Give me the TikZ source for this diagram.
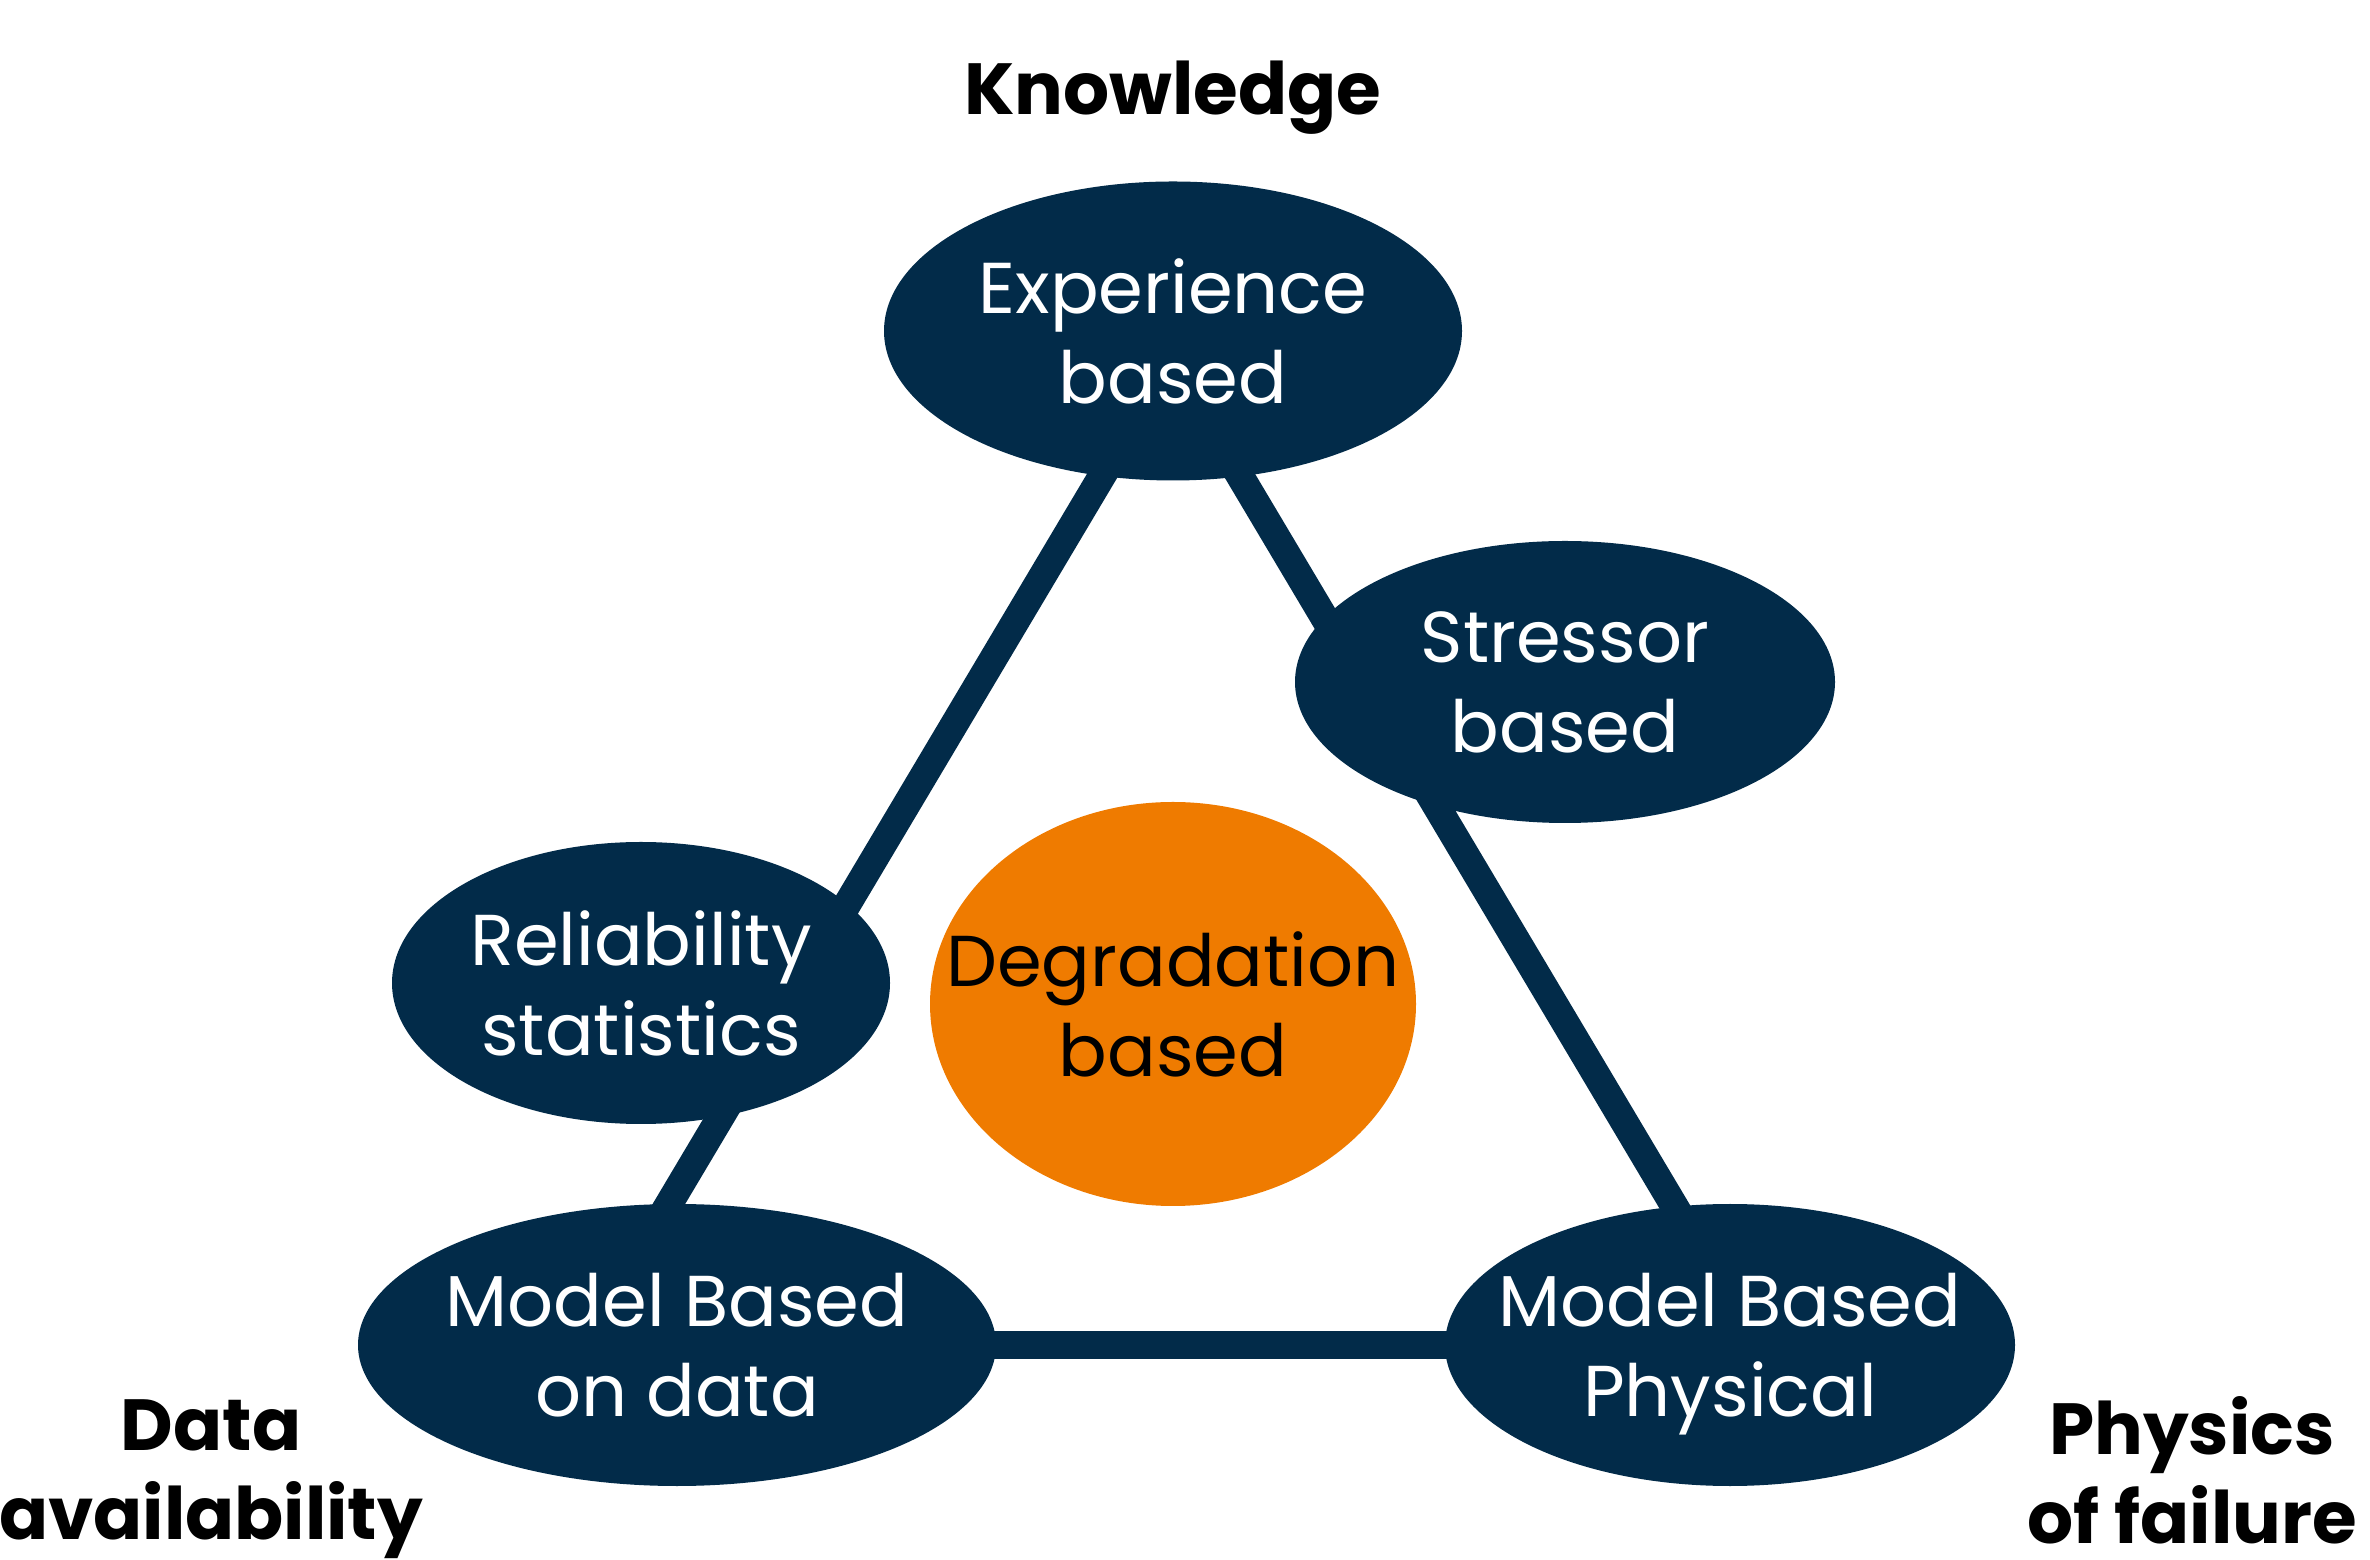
\documentclass[tikz,border=0pt]{standalone}
\usepackage{fontspec}
\setmainfont{Poppins}
\usetikzlibrary{shapes.geometric}
\definecolor{navy}{RGB}{2,43,73}
\definecolor{amber}{RGB}{239,123,0}

\begin{document}
\begin{tikzpicture}[
    blob/.style={ellipse, fill=navy, text=white, inner xsep=-1cm, inner ysep=0pt, align=center,
        font=\fontsize{20.5}{25.6}\selectfont, text depth=0pt},
    axislabel/.style={font=\fontsize{20.6}{25.4}\selectfont\bfseries, align=center},
    edge/.style={navy, line width=0.28cm}]
    %%%%% FRAME %%%%%
    \useasboundingbox (0, 0) rectangle (23.7, -15.6);

    %%%%% TRIANGLE %%%%%
    \coordinate (top) at (11.71, -3.60);
    \coordinate (left) at (5.85, -13.45);
    \coordinate (right) at (17.57, -13.45);
    \draw[edge] (top) -- (left);
    \draw[edge] (top) -- (right);
    \draw[edge] (left) -- (right);

    %%%%% ELLIPSES %%%%%
    \node[blob, minimum width=5.78cm, minimum height=2.99cm] (experience) at (11.73, -3.31) {Experience\\based};
    \node[blob, minimum width=5.40cm, minimum height=2.82cm] (stressor) at (15.65, -6.82) {Stressor\\based};
    \node[blob, minimum width=4.98cm, minimum height=2.82cm] (reliability) at (6.41, -9.83) {Reliability\\statistics};
    \node[blob, fill=amber, text=black, minimum width=4.86cm, minimum height=4.04cm] (degradation) at (11.73, -10.04) {Degradation\\based};
    \node[blob, minimum width=6.38cm, minimum height=2.82cm] (modeldata) at (6.77, -13.45) {Model Based\\on data};
    \node[blob, minimum width=5.70cm, minimum height=2.82cm] (modelphys) at (17.30, -13.45) {Model Based\\Physical};

    %%%%% AXES %%%%%
    \node[axislabel, anchor=base] (knowledge) at (11.73, -1.15) {Knowledge};
    \node[axislabel] (data) at (2.11, -14.79) {Data\\availability};
    \node[axislabel] (physics) at (21.92, -14.70) {Physics\\of failure};
\end{tikzpicture}
\end{document}
